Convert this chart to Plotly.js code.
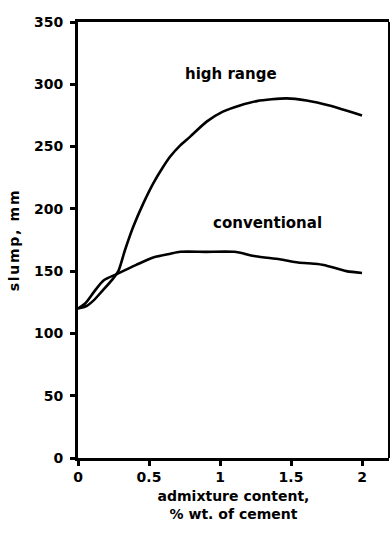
<!DOCTYPE html>
<html>
<head>
<meta charset="utf-8">
<script src="https://cdn.plot.ly/plotly-3.0.1.min.js"></script>
<style>html,body{margin:0;padding:0;background:#fff;}#chart{width:391px;height:541px;} .ytitle{letter-spacing:1.7px;}</style>
</head>
<body>
<div id="chart"></div>
<script>
const highRangeX = [0, 0.06, 0.11, 0.17, 0.24, 0.284, 0.331, 0.389, 0.46, 0.53, 0.6, 0.648, 0.72, 0.79, 0.906, 1.02, 1.14, 1.26, 1.47, 1.61, 1.77, 2.0];
const highRangeY = [120, 122, 126.5, 134, 143, 150, 167, 185.6, 204.4, 220.5, 233.8, 241.8, 251, 258, 270, 278, 283, 286.5, 288.7, 287, 283, 275];
const convX = [0, 0.05, 0.11, 0.18, 0.28, 0.41, 0.53, 0.65, 0.72, 0.9, 1.1, 1.25, 1.42, 1.55, 1.66, 1.73, 1.89, 2.0];
const convY = [120, 124, 133, 142.5, 148, 155, 161, 164, 165.5, 165.5, 165.5, 162, 159.5, 157, 156, 155, 150, 148.5];
const xTicks = [0, 0.5, 1, 1.5, 2];
const xTickLabels = ['0', '0.5', '1', '1.5', '2'];
const yTicks = [0, 50, 100, 150, 200, 250, 300, 350];
const seriesLabels = ['high range', 'conventional'];
const labelPos = [[1.077, 308], [1.334, 188.6]];

const font = {family: 'DejaVu Sans, Liberation Sans, Arial, sans-serif', size: 14, color: '#000', weight: 'bold'};
const lineStyle = {color: '#000', width: 2.6, shape: 'spline', smoothing: 0.7};

const data = [
  {x: highRangeX, y: highRangeY, mode: 'lines', line: lineStyle, hoverinfo: 'skip'},
  {x: convX, y: convY, mode: 'lines', line: lineStyle, hoverinfo: 'skip'}
];

const layout = {
  width: 391, height: 541,
  margin: {l: 78, r: 2, t: 22, b: 83},
  paper_bgcolor: '#fff', plot_bgcolor: '#fff',
  showlegend: false,
  font: font,
  xaxis: {
    range: [0, 2.19], tickvals: xTicks, ticktext: xTickLabels,
    showgrid: false, zeroline: false, showline: true, linewidth: 3, linecolor: '#000',
    mirror: true, ticks: 'outside', ticklen: 5, tickwidth: 3, tickcolor: '#000',
    tickfont: font, ticklabelstandoff: -1,
    title: {text: 'admixture content,<br>% wt. of cement', font: font, standoff: 8}
  },
  yaxis: {
    range: [0, 350], tickvals: yTicks,
    showgrid: false, zeroline: false, showline: true, linewidth: 3, linecolor: '#000',
    ticks: 'outside', ticklen: 5, tickwidth: 3, tickcolor: '#000',
    tickfont: font, ticklabelstandoff: 4,
    title: {text: 'slump, mm', font: font, standoff: 12}
  },
  shapes: [
    {type: 'line', xref: 'paper', yref: 'paper', x0: 1, x1: 1, y0: 0, y1: 1, line: {color: '#000', width: 2}}
  ],
  annotations: seriesLabels.map((t, i) => ({
    x: labelPos[i][0], y: labelPos[i][1], xref: 'x', yref: 'y', text: t, showarrow: false,
    font: {family: font.family, size: 15, color: '#000', weight: 'bold'}
  }))
};

Plotly.newPlot('chart', data, layout, {displayModeBar: false, staticPlot: true});
</script>
</body>
</html>
